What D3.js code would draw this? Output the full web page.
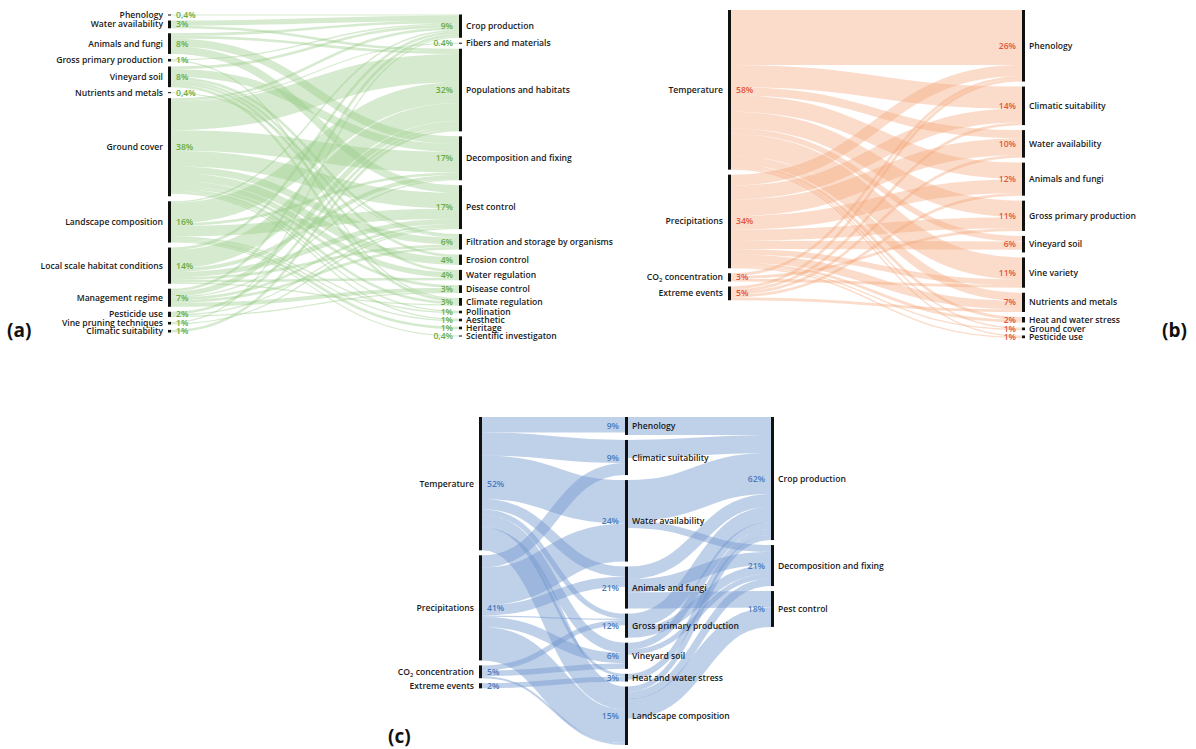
<!DOCTYPE html>
<html>
<head>
<meta charset="utf-8">
<script src="https://cdn.jsdelivr.net/npm/d3@7"></script>
<style>
  body { margin: 0; background: #fff; }
  svg { display: block; font-family: "Open Sans", sans-serif; }
</style>
</head>
<body>
<svg id="chart" width="1196" height="749"></svg>
<script>
// ---------- Panel (a): landscape drivers -> ecosystem services ----------
const driversA = ["Phenology", "Water availability", "Animals and fungi", "Gross primary production",
  "Vineyard soil", "Nutrients and metals", "Ground cover", "Landscape composition",
  "Local scale habitat conditions", "Management regime", "Pesticide use",
  "Vine pruning techniques", "Climatic suitability"];
const driverValuesA = [0.4, 3, 8, 1, 8, 0.4, 38, 16, 14, 7, 2, 1, 1];
const driverLabelsA = ["0,4%", "3%", "8%", "1%", "8%", "0,4%", "38%", "16%", "14%", "7%", "2%", "1%", "1%"];

const servicesA = ["Crop production", "Fibers and materials", "Populations and habitats",
  "Decomposition and fixing", "Pest control", "Filtration and storage by organisms",
  "Erosion control", "Water regulation", "Disease control", "Climate regulation",
  "Pollination", "Aesthetic", "Heritage", "Scientific investigaton"];
const serviceValuesA = [9, 0.4, 32, 17, 17, 6, 4, 4, 3, 3, 1, 1, 1, 0.4];
const serviceLabelsA = ["9%", "0.4%", "32%", "17%", "17%", "6%", "4%", "4%", "3%", "3%", "1%", "1%", "1%", "0,4%"];

const flowsA = [
  ["Phenology", "Crop production", 0.4],
  ["Water availability", "Crop production", 2],
  ["Water availability", "Populations and habitats", 1],
  ["Animals and fungi", "Crop production", 1],
  ["Animals and fungi", "Populations and habitats", 1],
  ["Animals and fungi", "Decomposition and fixing", 3],
  ["Animals and fungi", "Pest control", 3],
  ["Gross primary production", "Crop production", 0.5],
  ["Gross primary production", "Climate regulation", 0.5],
  ["Vineyard soil", "Crop production", 1],
  ["Vineyard soil", "Decomposition and fixing", 3],
  ["Vineyard soil", "Filtration and storage by organisms", 1],
  ["Vineyard soil", "Erosion control", 1],
  ["Vineyard soil", "Water regulation", 1],
  ["Vineyard soil", "Climate regulation", 1],
  ["Nutrients and metals", "Filtration and storage by organisms", 0.4],
  ["Ground cover", "Crop production", 1],
  ["Ground cover", "Fibers and materials", 0.4],
  ["Ground cover", "Populations and habitats", 11],
  ["Ground cover", "Decomposition and fixing", 8],
  ["Ground cover", "Pest control", 6],
  ["Ground cover", "Filtration and storage by organisms", 2.6],
  ["Ground cover", "Erosion control", 3],
  ["Ground cover", "Water regulation", 2],
  ["Ground cover", "Disease control", 1],
  ["Ground cover", "Climate regulation", 1],
  ["Ground cover", "Pollination", 0.5],
  ["Ground cover", "Aesthetic", 0.5],
  ["Landscape composition", "Crop production", 0.6],
  ["Landscape composition", "Populations and habitats", 8],
  ["Landscape composition", "Decomposition and fixing", 1],
  ["Landscape composition", "Pest control", 4],
  ["Landscape composition", "Pollination", 0.5],
  ["Landscape composition", "Aesthetic", 0.5],
  ["Landscape composition", "Heritage", 1],
  ["Landscape composition", "Scientific investigaton", 0.4],
  ["Local scale habitat conditions", "Crop production", 1],
  ["Local scale habitat conditions", "Populations and habitats", 7],
  ["Local scale habitat conditions", "Decomposition and fixing", 1.5],
  ["Local scale habitat conditions", "Pest control", 2],
  ["Local scale habitat conditions", "Filtration and storage by organisms", 1],
  ["Local scale habitat conditions", "Water regulation", 1],
  ["Local scale habitat conditions", "Climate regulation", 0.5],
  ["Management regime", "Crop production", 1],
  ["Management regime", "Populations and habitats", 2],
  ["Management regime", "Decomposition and fixing", 0.5],
  ["Management regime", "Pest control", 1],
  ["Management regime", "Filtration and storage by organisms", 1],
  ["Management regime", "Disease control", 1.5],
  ["Pesticide use", "Populations and habitats", 1],
  ["Pesticide use", "Pest control", 0.5],
  ["Pesticide use", "Disease control", 0.5],
  ["Vine pruning techniques", "Crop production", 0.5],
  ["Vine pruning techniques", "Pest control", 0.5],
  ["Climatic suitability", "Populations and habitats", 1]
];

// ---------- Panel (b): climate drivers -> vineyard processes ----------
const driversB = ["Temperature", "Precipitations", "CO2 concentration", "Extreme events"];
const driverValuesB = [58, 34, 3, 5];
const driverLabelsB = ["58%", "34%", "3%", "5%"];

const processesB = ["Phenology", "Climatic suitability", "Water availability", "Animals and fungi",
  "Gross primary production", "Vineyard soil", "Vine variety", "Nutrients and metals",
  "Heat and water stress", "Ground cover", "Pesticide use"];
const processValuesB = [26, 14, 10, 12, 11, 6, 11, 7, 2, 1, 1];
const processLabelsB = ["26%", "14%", "10%", "12%", "11%", "6%", "11%", "7%", "2%", "1%", "1%"];

const flowsB = [
  ["Temperature", "Phenology", 20],
  ["Temperature", "Climatic suitability", 8],
  ["Temperature", "Water availability", 3],
  ["Temperature", "Animals and fungi", 6],
  ["Temperature", "Gross primary production", 6],
  ["Temperature", "Vineyard soil", 2],
  ["Temperature", "Vine variety", 8],
  ["Temperature", "Nutrients and metals", 3],
  ["Temperature", "Heat and water stress", 1],
  ["Temperature", "Ground cover", 0.5],
  ["Temperature", "Pesticide use", 0.5],
  ["Precipitations", "Phenology", 4],
  ["Precipitations", "Climatic suitability", 5],
  ["Precipitations", "Water availability", 6],
  ["Precipitations", "Animals and fungi", 5],
  ["Precipitations", "Gross primary production", 4],
  ["Precipitations", "Vineyard soil", 3],
  ["Precipitations", "Vine variety", 2],
  ["Precipitations", "Nutrients and metals", 3],
  ["Precipitations", "Heat and water stress", 1],
  ["Precipitations", "Ground cover", 0.5],
  ["Precipitations", "Pesticide use", 0.5],
  ["CO2 concentration", "Phenology", 1],
  ["CO2 concentration", "Gross primary production", 1],
  ["CO2 concentration", "Vine variety", 1],
  ["Extreme events", "Phenology", 1],
  ["Extreme events", "Climatic suitability", 1],
  ["Extreme events", "Water availability", 1],
  ["Extreme events", "Animals and fungi", 1],
  ["Extreme events", "Nutrients and metals", 1]
];

// ---------- Panel (c): climate drivers -> processes -> services ----------
const driversC = ["Temperature", "Precipitations", "CO2 concentration", "Extreme events"];
const driverLabelsC = ["52%", "41%", "5%", "2%"];

const processesC = ["Phenology", "Climatic suitability", "Water availability", "Animals and fungi",
  "Gross primary production", "Vineyard soil", "Heat and water stress", "Landscape composition"];
const processLabelsC = ["9%", "9%", "24%", "21%", "12%", "6%", "3%", "15%"];

const servicesC = ["Crop production", "Decomposition and fixing", "Pest control"];
const serviceLabelsC = ["62%", "21%", "18%"];

const flowsC1 = [
  ["Temperature", "Phenology", 6],
  ["Temperature", "Climatic suitability", 9],
  ["Temperature", "Water availability", 17],
  ["Temperature", "Animals and fungi", 4],
  ["Temperature", "Gross primary production", 2],
  ["Temperature", "Vineyard soil", 4],
  ["Temperature", "Heat and water stress", 1],
  ["Temperature", "Landscape composition", 9],
  ["Precipitations", "Climatic suitability", 4.7],
  ["Precipitations", "Water availability", 14.8],
  ["Precipitations", "Animals and fungi", 4],
  ["Precipitations", "Gross primary production", 0.5],
  ["Precipitations", "Vineyard soil", 4],
  ["Precipitations", "Landscape composition", 13],
  ["CO2 concentration", "Gross primary production", 2],
  ["CO2 concentration", "Vineyard soil", 2.2],
  ["CO2 concentration", "Landscape composition", 0.8],
  ["Extreme events", "Heat and water stress", 2]
];
const flowsC2 = [
  ["Phenology", "Crop production", 7],
  ["Climatic suitability", "Crop production", 7],
  ["Water availability", "Crop production", 16],
  ["Water availability", "Decomposition and fixing", 2.7],
  ["Animals and fungi", "Crop production", 5],
  ["Animals and fungi", "Decomposition and fixing", 5],
  ["Animals and fungi", "Pest control", 6.4],
  ["Gross primary production", "Crop production", 6],
  ["Gross primary production", "Decomposition and fixing", 3.4],
  ["Vineyard soil", "Crop production", 2.7],
  ["Vineyard soil", "Decomposition and fixing", 2],
  ["Heat and water stress", "Crop production", 2.3],
  ["Landscape composition", "Crop production", 2],
  ["Landscape composition", "Decomposition and fixing", 2.9],
  ["Landscape composition", "Pest control", 7.6]
];

// ---------- shared drawing code ----------
const svg = d3.select("#chart");
const BAR_W = 3;
const FONT_SIZE = 8.6;
const MIN_LABEL_GAP = 8; // smallest distance between neighbouring node centres

// writes a node name, turning "CO2" into CO with a subscript 2
function writeName(text, name) {
  if (name.startsWith("CO2")) {
    text.append("tspan").text("CO");
    text.append("tspan").attr("font-size", FONT_SIZE * 0.7).attr("dy", 2).text("2");
    text.append("tspan").attr("dy", -2).text(name.slice(3));
  } else {
    text.text(name);
  }
}

function drawSankey(spec) {
  const g = svg.append("g");
  const byKey = new Map();
  const cols = spec.columns.map((c, ci) => c.names.map((name, i) => {
    const n = { name, col: ci, fixed: c.values ? c.values[i] : null, label: c.labels[i], out: [], inn: [] };
    byKey.set(ci + "|" + name, n);
    return n;
  }));
  const links = [];
  spec.stages.forEach((stage, si) => stage.forEach(([s, t, v]) => {
    const l = { source: byKey.get(si + "|" + s), target: byKey.get((si + 1) + "|" + t), value: v };
    l.source.out.push(l);
    l.target.inn.push(l);
    links.push(l);
  }));
  const nodes = cols.flat();
  nodes.forEach(n => {
    n.value = n.fixed != null ? n.fixed
      : Math.max(d3.sum(n.out, l => l.value), d3.sum(n.inn, l => l.value));
  });

  // one value->pixel scale per diagram, set by the fullest column
  const k = d3.min(cols, c => (spec.height - (c.length - 1) * spec.pad) / d3.sum(c, n => n.value));
  const h = d3.scaleLinear().domain([0, 1]).range([0, k]);
  const x = d3.scaleOrdinal().domain(d3.range(cols.length)).range(spec.xs);

  cols.forEach(c => {
    let prev = null;
    c.forEach(n => {
      const size = h(n.value);
      let y0 = spec.top;
      if (prev) {
        const prevMid = (prev.y0 + prev.y1) / 2;
        y0 = Math.max(prev.y1 + spec.pad, prevMid + MIN_LABEL_GAP - size / 2);
      }
      n.y0 = y0;
      n.y1 = y0 + size;
      prev = n;
    });
  });
  nodes.forEach(n => {
    n.out.sort((a, b) => a.target.y0 - b.target.y0);
    n.inn.sort((a, b) => a.source.y0 - b.source.y0);
    let y = n.y0;
    n.out.forEach(l => { l.width = h(l.value); l.sy = y + l.width / 2; y += l.width; });
    y = n.y0;
    n.inn.forEach(l => { l.ty = y + h(l.value) / 2; y += h(l.value); });
  });

  const linkPath = d3.linkHorizontal()
    .source(l => [x(l.source.col) + BAR_W, l.sy])
    .target(l => [x(l.target.col), l.ty]);

  g.append("g")
    .selectAll("path")
    .data(links)
    .join("path")
    .attr("d", linkPath)
    .attr("fill", "none")
    .attr("stroke", spec.linkColor)
    .attr("stroke-opacity", spec.linkOpacity)
    .attr("stroke-width", l => Math.max(0.6, l.width));

  g.append("g")
    .selectAll("rect")
    .data(nodes)
    .join("rect")
    .attr("x", n => x(n.col))
    .attr("y", n => n.y0)
    .attr("width", BAR_W)
    .attr("height", n => Math.max(1, n.y1 - n.y0))
    .attr("fill", "#111");

  const labels = g.append("g").attr("font-size", FONT_SIZE).attr("font-weight", 600);
  nodes.forEach(n => {
    const cy = (n.y0 + n.y1) / 2;
    const first = n.col === 0;
    const name = labels.append("text")
      .attr("x", first ? x(n.col) - 5 : x(n.col) + BAR_W + 4)
      .attr("y", cy)
      .attr("dy", "0.35em")
      .attr("text-anchor", first ? "end" : "start")
      .attr("fill", "#1a1a1a");
    writeName(name, n.name);
    labels.append("text")
      .attr("x", first ? x(n.col) + BAR_W + 5 : x(n.col) - 6)
      .attr("y", cy)
      .attr("dy", "0.35em")
      .attr("text-anchor", first ? "start" : "end")
      .attr("fill", spec.pctColor)
      .text(n.label);
  });
}

drawSankey({
  columns: [
    { names: driversA, values: driverValuesA, labels: driverLabelsA },
    { names: servicesA, values: serviceValuesA, labels: serviceLabelsA }
  ],
  stages: [flowsA],
  xs: [168, 459], top: 14.5, height: 320, pad: 5,
  linkColor: "#9ccc8a", linkOpacity: 0.42, pctColor: "#6aac3c"
});

drawSankey({
  columns: [
    { names: driversB, values: driverValuesB, labels: driverLabelsB },
    { names: processesB, values: processValuesB, labels: processLabelsB }
  ],
  stages: [flowsB],
  xs: [728, 1022], top: 10, height: 328, pad: 5,
  linkColor: "#f5a77a", linkOpacity: 0.4, pctColor: "#e0553c"
});

drawSankey({
  columns: [
    { names: driversC, labels: driverLabelsC },
    { names: processesC, labels: processLabelsC },
    { names: servicesC, labels: serviceLabelsC }
  ],
  stages: [flowsC1, flowsC2],
  xs: [479, 625, 771], top: 417, height: 328, pad: 5,
  linkColor: "#7096cf", linkOpacity: 0.45, pctColor: "#4a7bbd"
});

// panel letters
const letters = [
  { t: "(a)", x: 7, y: 337 },
  { t: "(b)", x: 1162, y: 337 },
  { t: "(c)", x: 388, y: 743 }
];
svg.append("g")
  .selectAll("text")
  .data(letters)
  .join("text")
  .attr("x", d => d.x)
  .attr("y", d => d.y)
  .attr("font-size", 19)
  .attr("font-weight", 700)
  .attr("fill", "#111")
  .text(d => d.t);
</script>
</body>
</html>
